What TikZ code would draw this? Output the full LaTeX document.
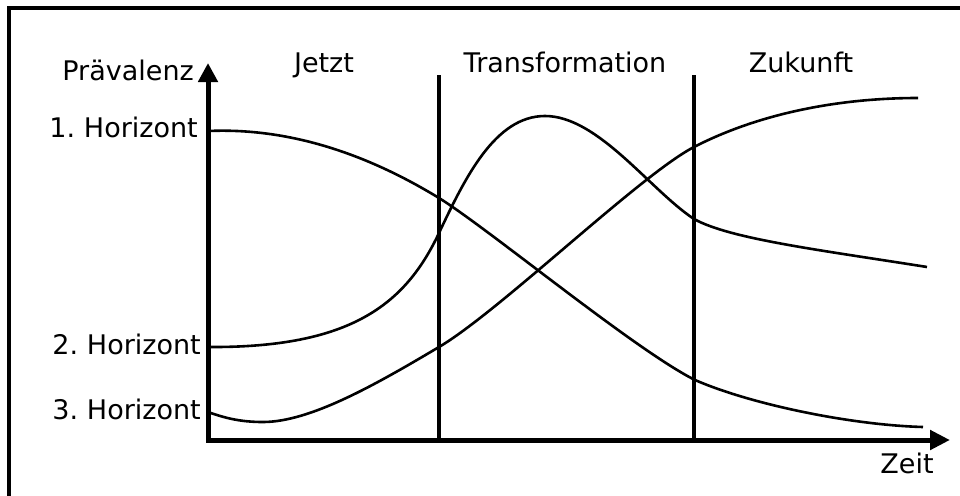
\documentclass[tikz,border=0pt]{standalone}
\usepackage{fontspec}
\setmainfont{DejaVu Sans}[WordSpace=0.7]
\usetikzlibrary{arrows.meta}
\begin{document}
\begin{tikzpicture}[x=1pt,y=-1pt,
  lbl/.style={inner sep=0pt,font=\fontsize{27}{31}\selectfont},
  curve/.style={line width=2.6pt},
  divider/.style={line width=3.5pt},
  axis/.style={line width=5pt,line join=miter}]
\useasboundingbox (0,0) rectangle (960,495);
% frame (only top and left visible)
\draw[line width=4pt] (9,8) rectangle (975,510);
% dividers
\coordinate (d1t) at (439,75); \coordinate (d1b) at (439,440);
\coordinate (d2t) at (694,75); \coordinate (d2b) at (694,440);
\draw[divider] (d1t) -- (d1b);
\draw[divider] (d2t) -- (d2b);
% curve of the 1. Horizont
\draw[curve] (208,131) .. controls (300,127) and (380,162) .. (439,198)
  .. controls (489,229) and (635,350) .. (695,380)
  .. controls (750,404) and (850,425) .. (923,427);
% curve of the 2. Horizont
\draw[curve] (208,347) .. controls (350,348) and (405,305) .. (439,233)
  .. controls (465,178) and (495,116) .. (545,116)
  .. controls (598,116) and (650,190) .. (694,219)
  .. controls (730,239) and (820,250) .. (927,267);
% curve of the 3. Horizont
\draw[curve] (208,412) .. controls (225,418) and (240,422) .. (263,422)
  .. controls (310,422) and (375,385) .. (439,347)
  .. controls (500,311) and (640,175) .. (694,147)
  .. controls (760,113) and (840,98) .. (918,98);
% axes
\coordinate (xend) at (950,440);
\coordinate (origin) at (208,440);
\coordinate (yend) at (208,63);
\draw[axis,{Triangle[length=20pt,width=19pt]}-{Triangle[length=19pt,width=19pt]}] (xend) -- (origin) -- (yend);
% labels
\node[lbl,anchor=base east] (prev) at (194,81) {Prävalenz};
\node[lbl,anchor=base east] (h1) at (198,137) {1. Horizont};
\node[lbl,anchor=base east] (h2) at (201,354) {2. Horizont};
\node[lbl,anchor=base east] (h3) at (201,419) {3. Horizont};
\node[lbl,anchor=base] (jetzt) at (324,73) {Jetzt};
\node[lbl,anchor=base] (trans) at (565,73) {Transformation};
\node[lbl,anchor=base] (zuk) at (801,73) {Zukunft};
\node[lbl,anchor=base] (zeit) at (907,473) {Zeit};
\end{tikzpicture}
\end{document}
